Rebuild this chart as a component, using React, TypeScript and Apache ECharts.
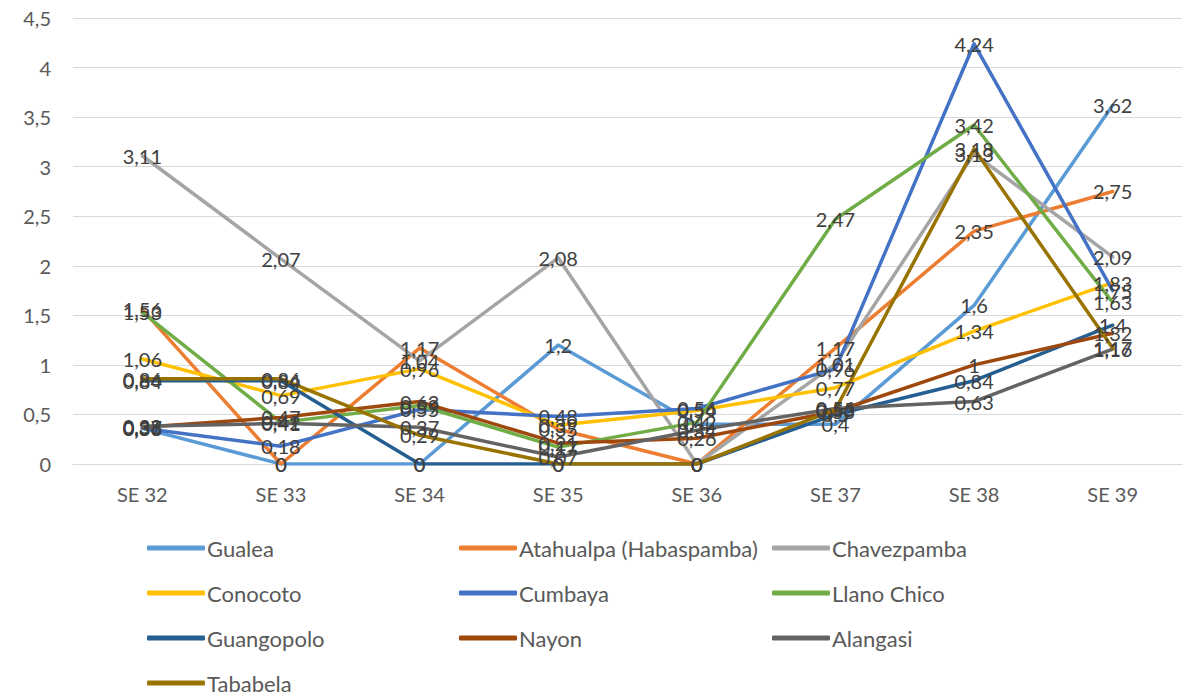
import React, { useEffect, useRef } from "react";
import * as echarts from "echarts";

const categories = ["SE 32", "SE 33", "SE 34", "SE 35", "SE 36", "SE 37", "SE 38", "SE 39"];

const gualea = [0.36, 0, 0, 1.2, 0.4, 0.4, 1.6, 3.62];
const atahualpa = [1.56, 0, 1.17, 0.35, 0, 1.17, 2.35, 2.75];
const chavezpamba = [3.11, 2.07, 1.04, 2.08, 0, 1.01, 3.13, 2.09];
const conocoto = [1.06, 0.69, 0.96, 0.39, 0.54, 0.77, 1.34, 1.83];
const cumbaya = [0.36, 0.18, 0.55, 0.48, 0.56, 0.96, 4.24, 1.75];
const llanoChico = [1.53, 0.42, 0.59, 0.17, 0.42, 2.47, 3.42, 1.63];
const guangopolo = [0.84, 0.84, 0, 0, 0, 0.5, 0.84, 1.4];
const nayon = [0.37, 0.47, 0.63, 0.21, 0.26, 0.53, 1, 1.32];
const alangasi = [0.38, 0.41, 0.37, 0.07, 0.34, 0.56, 0.63, 1.16];
const tababela = [0.86, 0.86, 0.29, 0, 0, 0.55, 3.18, 1.17];

const seriesNames = [
  "Gualea",
  "Atahualpa (Habaspamba)",
  "Chavezpamba",
  "Conocoto",
  "Cumbaya",
  "Llano Chico",
  "Guangopolo",
  "Nayon",
  "Alangasi",
  "Tababela",
];
const seriesData = [gualea, atahualpa, chavezpamba, conocoto, cumbaya, llanoChico, guangopolo, nayon, alangasi, tababela];
const colors = ["#5B9BD5", "#ED7D31", "#A5A5A5", "#FFC000", "#4472C4", "#70AD47", "#255E91", "#9E480E", "#636363", "#997300"];

// legend grid: 3 columns, items fill row by row
const legendLefts = [147, 459, 772];
const legendRowTops = [536, 581, 626, 671];

const FONT = "Lato";
const fmt = (v: number) => String(v).replace(".", ",");

export default function App() {
  const ref = useRef<HTMLDivElement>(null);
  useEffect(() => {
    if (!ref.current) return;
    const chart = echarts.init(ref.current, undefined, { renderer: "svg" });
    chart.setOption({
      animation: false,
      color: colors,
      textStyle: { fontFamily: FONT },
      grid: { left: 73, right: 10, top: 18, bottom: 228, containLabel: false },
      xAxis: {
        type: "category",
        data: categories,
        boundaryGap: true,
        axisLine: { lineStyle: { color: "#D9D9D9", width: 1 } },
        axisTick: { show: false },
        axisLabel: { color: "#595959", fontSize: 20, fontFamily: FONT, margin: 20 },
      },
      yAxis: {
        type: "value",
        min: 0,
        max: 4.5,
        interval: 0.5,
        axisLine: { show: false },
        axisTick: { show: false },
        splitLine: { lineStyle: { color: "#D9D9D9", width: 1 } },
        axisLabel: {
          color: "#595959",
          fontSize: 20,
          fontFamily: FONT,
          margin: 22,
          formatter: (v: number) => fmt(v),
        },
      },
      legend: seriesNames.map((name, i) => ({
        orient: "horizontal",
        left: legendLefts[i % 3],
        top: legendRowTops[Math.floor(i / 3)],
        padding: 0,
        data: [name],
        icon: "roundRect",
        itemWidth: 58,
        itemHeight: 5,
        textStyle: { color: "#595959", fontSize: 22, fontFamily: FONT, lineHeight: 24, padding: [0, 0, 0, -3] },
      })),
      series: seriesNames.map((name, i) => ({
        name,
        type: "line",
        data: seriesData[i],
        symbol: "circle",
        symbolSize: 0,
        showSymbol: true,
        lineStyle: { width: 3.5, color: colors[i], cap: "round", join: "round" },
        itemStyle: { color: colors[i] },
        label: {
          show: true,
          position: "inside",
          color: "#404040",
          fontSize: 20,
          fontFamily: FONT,
          formatter: (p: any) => fmt(p.value),
        },
        emphasis: { disabled: true },
      })),
    });
    return () => chart.dispose();
  }, []);
  return <div ref={ref} style={{ width: 1192, height: 692, position: "absolute", left: 0, top: 0 }} />;
}
